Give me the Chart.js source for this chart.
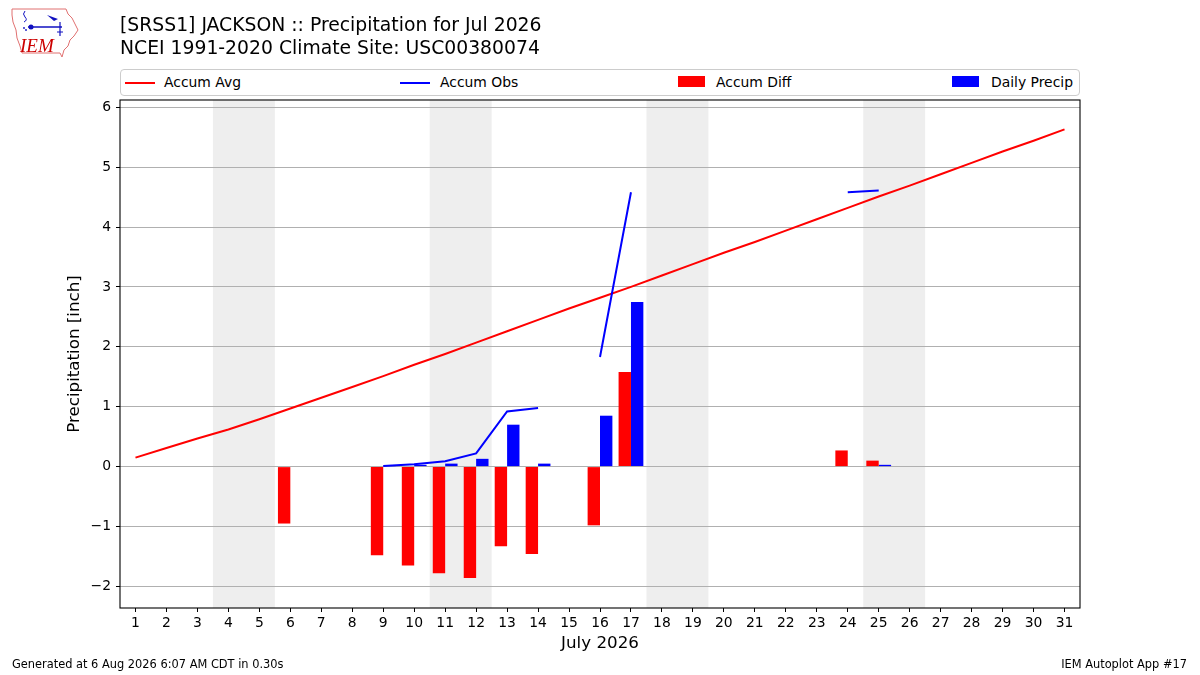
<!DOCTYPE html>
<html>
<head>
<meta charset="utf-8">
<script src="https://cdn.jsdelivr.net/npm/chart.js@4"></script>
<style>
  html, body { margin:0; padding:0; background:#fff; }
  #wrap { position:relative; width:1200px; height:675px; overflow:hidden; font-family:"DejaVu Sans", sans-serif; color:#000; }
  canvas { position:absolute; left:0; top:0; }
  .t { position:absolute; white-space:nowrap; }
  #title { left:120px; top:12.8px; font-size:18.8px; line-height:23.5px; }
  #legend { position:absolute; left:120px; top:69px; width:958px; height:25px; border:1px solid #cccccc; border-radius:4px; background:#fff; }
  .li { position:absolute; font-size:13.9px; line-height:16px; top:4px; }
  .ll { position:absolute; height:2px; width:30px; top:12px; }
  .lr { position:absolute; height:11px; width:27px; top:6px; }
  .foot { position:absolute; font-size:11.4px; top:657px; }
</style>
</head>
<body>
<div id="wrap">
  <canvas id="c" width="1200" height="675"></canvas>
  <svg class="t" style="left:0;top:0" width="90" height="62" viewBox="0 0 90 62">
    <path d="M12,9 L66,9 L68,14 L72,18 L75,24 L78,30 L74,36 L70,40 L68,46 L64,50 L62,57 L60,53 L22,53 L20,46 L17,38 L16,30 L13,22 L12,15 Z" fill="none" stroke="#e07070" stroke-width="1"/>
    <text x="20" y="52" font-family="Liberation Serif, serif" font-style="italic" font-size="19" fill="#cc0000">IEM</text>
    <line x1="28" y1="27" x2="62" y2="27" stroke="#1010c0" stroke-width="1.5"/>
    <circle cx="31" cy="27" r="2.5" fill="#1010c0"/>
    <path d="M47,15 L58,19 L54,21 Z" fill="#1010c0"/>
    <line x1="60" y1="22" x2="60" y2="36" stroke="#1010c0" stroke-width="1.2"/>
    <line x1="57" y1="32" x2="63" y2="32" stroke="#1010c0" stroke-width="1"/>
    <path d="M25,11 Q22,14 25,17 Q28,20 24,22" fill="none" stroke="#1010c0" stroke-width="1"/>
    <circle cx="24" cy="28" r="0.9" fill="#1010c0"/>
    <circle cx="26" cy="30" r="0.9" fill="#1010c0"/>
  </svg>
  <div id="title" class="t">[SRSS1] JACKSON :: Precipitation for Jul 2026<br>NCEI 1991-2020 Climate Site: USC00380074</div>
  <div id="legend">
    <div class="ll" style="left:4px;background:#ff0000"></div>
    <div class="li" style="left:43px">Accum Avg</div>
    <div class="ll" style="left:279px;background:#0000ff"></div>
    <div class="li" style="left:319px">Accum Obs</div>
    <div class="lr" style="left:557px;background:#ff0000"></div>
    <div class="li" style="left:595px">Accum Diff</div>
    <div class="lr" style="left:831px;background:#0000ff"></div>
    <div class="li" style="left:870px">Daily Precip</div>
  </div>
  <div class="foot" style="left:12px">Generated at 6 Aug 2026 6:07 AM CDT in 0.30s</div>
  <div class="foot" style="right:13px">IEM Autoplot App #17</div>
</div>
<script>
const days = ['1','2','3','4','5','6','7','8','9','10','11','12','13','14','15','16','17','18','19','20','21','22','23','24','25','26','27','28','29','30','31'];
const accumAvg = [0.15,0.31,0.47,0.62,0.79,0.97,1.15,1.33,1.51,1.70,1.88,2.07,2.26,2.45,2.64,2.82,3.00,3.19,3.38,3.57,3.75,3.94,4.13,4.32,4.51,4.69,4.88,5.07,5.26,5.44,5.63];
const accumObs = [null,null,null,null,null,null,null,null,0.01,0.04,0.09,0.22,0.92,0.98,null,1.83,4.58,null,null,null,null,null,null,4.58,4.61,null,null,null,null,null,null];
const accumDiff = [null,null,null,null,null,-0.95,null,null,-1.48,-1.65,-1.78,-1.86,-1.33,-1.46,null,-0.98,1.58,null,null,null,null,null,null,0.27,0.10,null,null,null,null,null,null];
const dailyPrecip = [null,null,null,null,null,null,null,null,0.01,0.03,0.05,0.13,0.70,0.05,null,0.85,2.75,null,null,null,null,null,null,null,0.03,null,null,null,null,null,null];
const weekendDays = ['4','11','18','25'];
const yTicks = [-2,-1,0,1,2,3,4,5,6];
const yMin = -2.36, yMax = 6.12;

const FONT = '"DejaVu Sans", sans-serif';

const shadePlugin = {
  id: 'shade',
  beforeDraw(chart) {
    const {ctx, chartArea, scales} = chart;
    const x = scales.x;
    ctx.save();
    ctx.fillStyle = '#eeeeee';
    weekendDays.forEach(d => {
      const i = days.indexOf(d);
      const x0 = x.getPixelForValue(i - 0.5);
      const x1 = x.getPixelForValue(i + 1.5);
      ctx.fillRect(x0, chartArea.top, x1 - x0, chartArea.bottom - chartArea.top);
    });
    ctx.restore();
  },
  afterDraw(chart) {
    const {ctx, chartArea} = chart;
    ctx.save();
    ctx.strokeStyle = '#000';
    ctx.lineWidth = 1.1;
    ctx.strokeRect(chartArea.left, chartArea.top, chartArea.right - chartArea.left, chartArea.bottom - chartArea.top);
    ctx.restore();
  }
};

new Chart(document.getElementById('c'), {
  type: 'bar',
  data: {
    labels: days,
    datasets: [
      { type: 'line', label: 'Accum Avg', data: accumAvg, borderColor: '#ff0000', borderWidth: 2, pointRadius: 0, tension: 0, order: 1 },
      { type: 'line', label: 'Accum Obs', data: accumObs, borderColor: '#0000ff', borderWidth: 2, pointRadius: 0, tension: 0, spanGaps: false, order: 0 },
      { type: 'bar', label: 'Accum Diff', data: accumDiff, backgroundColor: '#ff0000', borderWidth: 0, categoryPercentage: 0.8, barPercentage: 1.0, order: 2 },
      { type: 'bar', label: 'Daily Precip', data: dailyPrecip, backgroundColor: '#0000ff', borderWidth: 0, categoryPercentage: 0.8, barPercentage: 1.0, order: 2 }
    ]
  },
  options: {
    responsive: false,
    animation: false,
    devicePixelRatio: 1,
    layout: { padding: { left: 0, right: 120, top: 100, bottom: 0 } },
    plugins: { legend: { display: false }, tooltip: { enabled: false }, title: { display: false } },
    scales: {
      x: {
        offset: true,
        grid: { offset: false, drawOnChartArea: false, color: 'rgba(0,0,0,0)', tickColor: '#000', tickLength: 4, tickWidth: 1 },
        border: { display: false },
        ticks: { color: '#000', font: { family: FONT, size: 13.9 }, padding: 3, autoSkip: false, maxRotation: 0 },
        title: { display: true, text: 'July 2026', color: '#000', font: { family: FONT, size: 16.7 }, padding: { top: 0, bottom: 21 } },
        afterFit(s) { s.height = 67; }
      },
      y: {
        min: yMin, max: yMax,
        grid: { color: '#b0b0b0', lineWidth: 1, tickColor: '#000', tickLength: 4 },
        border: { display: false },
        ticks: {
          color: '#000', font: { family: FONT, size: 13.9 }, padding: 5,
          callback: v => (v < 0 ? '\u2212' + Math.abs(v) : String(v))
        },
        afterBuildTicks(s) { s.ticks = yTicks.map(v => ({ value: v })); },
        title: { display: true, text: 'Precipitation [inch]', color: '#000', font: { family: FONT, size: 16.7 }, padding: { top: 65, bottom: 0 } },
        afterFit(s) { s.width = 120; }
      }
    }
  },
  plugins: [shadePlugin]
});
</script>
</body>
</html>
